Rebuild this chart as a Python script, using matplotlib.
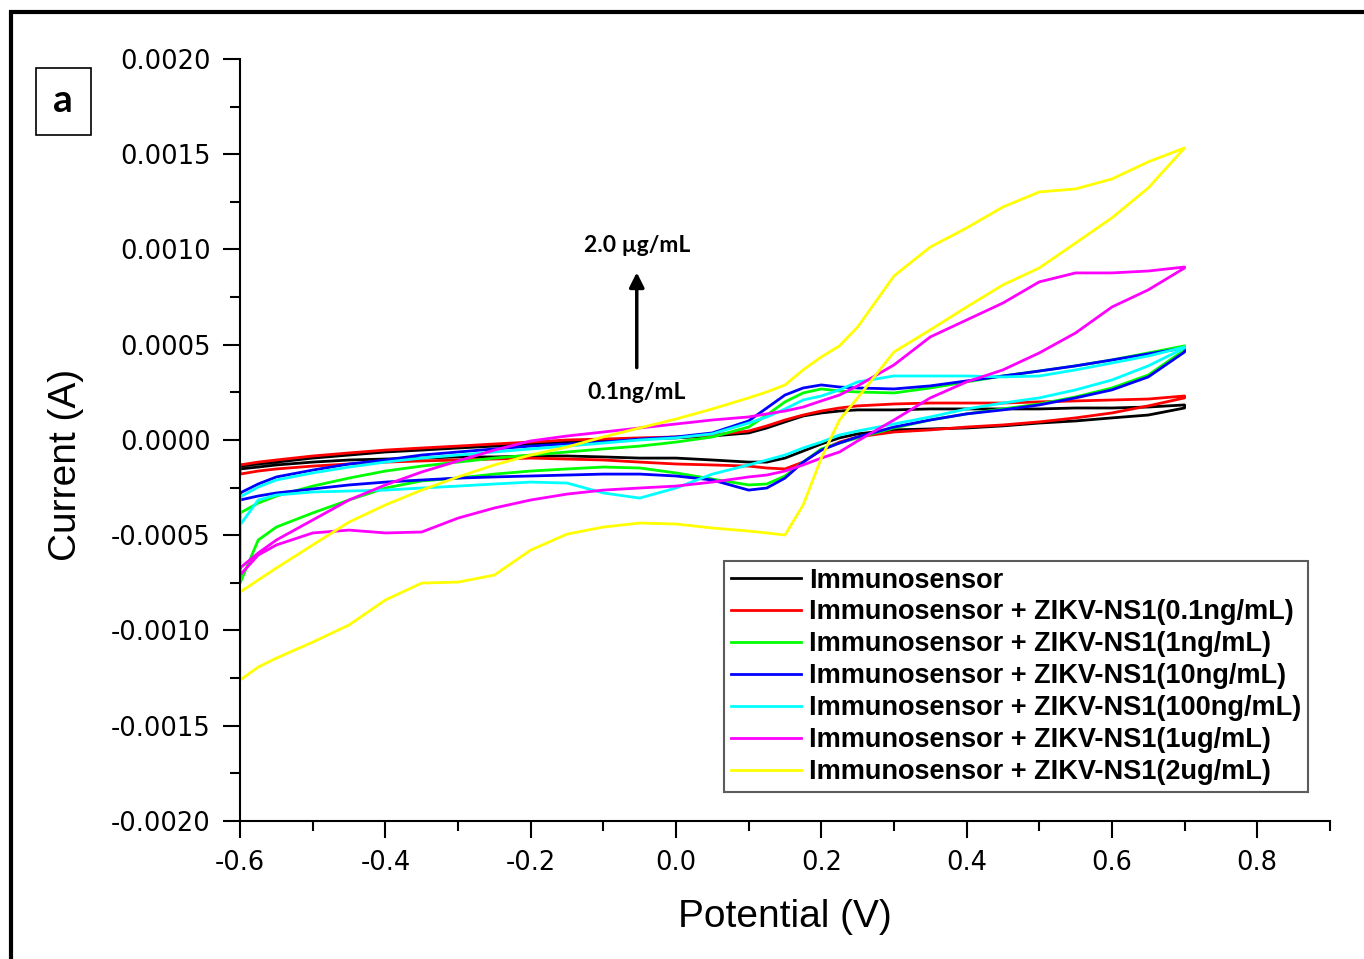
import matplotlib
matplotlib.use('Agg')
import matplotlib.pyplot as plt
from matplotlib.patches import Rectangle
from matplotlib.ticker import MultipleLocator, FormatStrFormatter

plt.rcParams['font.family'] = ['Liberation Sans', 'DejaVu Sans']

# potential grid (V), shared by both sweep branches
potential = [-0.6, -0.575, -0.55, -0.5, -0.45, -0.4, -0.35, -0.3, -0.25, -0.2,
             -0.15, -0.1, -0.05, 0.0, 0.05, 0.1, 0.125, 0.15, 0.175, 0.2,
             0.225, 0.25, 0.3, 0.35, 0.4, 0.45, 0.5, 0.55, 0.6, 0.65, 0.7]

# current in uA, upper (fwd) and lower (rev) branches
black_fwd = [-137, -126, -116, -95, -79, -63, -53, -42, -32, -21, -11, -5, 5, 11, 21, 37, 63, 95, 126, 142,
             152, 158, 158, 163, 163, 163, 163, 168, 168, 173, 184]
black_rev = [-152, -142, -131, -116, -105, -100, -95, -89, -89, -84, -84, -89, -95, -95, -105, -116, -116, -95, -58, -21,
             11, 32, 53, 58, 63, 74, 89, 100, 116, 131, 168]
red_fwd = [-131, -116, -105, -84, -68, -53, -42, -32, -21, -11, 0, 5, 11, 16, 26, 47, 74, 105, 131, 152,
           168, 179, 189, 194, 194, 194, 200, 205, 210, 215, 231]
red_rev = [-179, -163, -152, -137, -126, -116, -110, -105, -100, -95, -100, -105, -116, -126, -131, -137, -147, -152, -116, -53,
           -11, 16, 42, 53, 68, 79, 95, 116, 142, 179, 221]
green_fwd = [-383, -331, -294, -242, -200, -163, -137, -116, -95, -79, -63, -47, -32, -11, 16, 68, 131, 200, 247, 268,
             257, 252, 247, 273, 305, 336, 362, 389, 420, 457, 494]
green_rev = [-751, -525, -457, -383, -315, -252, -215, -200, -179, -163, -152, -142, -147, -173, -205, -236, -231, -189, -116, -47,
             -16, 11, 63, 105, 137, 163, 189, 226, 273, 341, 473]
blue_fwd = [-278, -231, -194, -158, -126, -105, -79, -63, -47, -32, -21, -11, 5, 16, 37, 100, 168, 236, 273, 289,
            278, 273, 268, 284, 310, 336, 362, 389, 420, 452, 483]
blue_rev = [-315, -294, -278, -257, -236, -221, -210, -200, -194, -189, -184, -179, -179, -189, -210, -263, -252, -200, -116, -53,
            -16, 16, 68, 105, 137, 158, 184, 221, 263, 331, 462]
cyan_fwd = [-299, -247, -210, -173, -142, -116, -95, -79, -63, -47, -32, -16, 0, 11, 32, 89, 121, 163, 210, 231,
            263, 305, 336, 336, 336, 331, 336, 368, 404, 441, 488]
cyan_rev = [-446, -315, -289, -273, -268, -263, -252, -242, -231, -221, -226, -278, -305, -252, -179, -131, -105, -79, -42, -11,
            26, 47, 84, 121, 163, 194, 221, 263, 315, 389, 483]
magenta_fwd = [-672, -593, -525, -420, -315, -236, -168, -110, -53, -5, 21, 42, 63, 84, 105, 121, 137, 152, 173, 205,
               236, 284, 394, 541, 630, 719, 830, 877, 877, 887, 908]
magenta_rev = [-709, -604, -551, -488, -473, -488, -483, -410, -357, -315, -284, -263, -252, -242, -221, -194, -184, -163, -131, -95,
               -63, -5, 105, 221, 305, 368, 457, 562, 698, 788, 903]
yellow_fwd = [-798, -735, -672, -551, -431, -341, -263, -194, -131, -79, -37, 16, 63, 110, 163, 221, 252, 289, 368, 436,
              494, 593, 861, 1013, 1113, 1223, 1302, 1318, 1370, 1460, 1533]
yellow_rev = [-1260, -1192, -1145, -1061, -971, -840, -751, -746, -709, -578, -494, -457, -436, -441, -462, -478, -488, -499, -341, -95,
              105, 221, 462, 578, 698, 814, 903, 1034, 1166, 1323, 1533]

labels = ['Immunosensor',
          'Immunosensor + ZIKV-NS1(0.1ng/mL)',
          'Immunosensor + ZIKV-NS1(1ng/mL)',
          'Immunosensor + ZIKV-NS1(10ng/mL)',
          'Immunosensor + ZIKV-NS1(100ng/mL)',
          'Immunosensor + ZIKV-NS1(1ug/mL)',
          'Immunosensor + ZIKV-NS1(2ug/mL)']
colors = ['#000000', '#ff0000', '#00ff00', '#0000ff', '#00ffff', '#ff00ff', '#ffff00']
curves = [(black_fwd, black_rev), (red_fwd, red_rev), (green_fwd, green_rev),
          (blue_fwd, blue_rev), (cyan_fwd, cyan_rev), (magenta_fwd, magenta_rev),
          (yellow_fwd, yellow_rev)]

fig = plt.figure(figsize=(13.64, 9.59), dpi=100)
ax = fig.add_axes([0.176, 0.1439, 0.799, 0.7946])

for (fwd, rev), c, lab in zip(curves, colors, labels):
    xs = potential + potential[::-1] + potential[:1]
    ys = fwd + rev[::-1] + fwd[:1]
    ax.plot(xs, [v * 1e-6 for v in ys], color=c, lw=2.0, label=lab)

ax.set_xlim(-0.6, 0.9)
ax.set_ylim(-0.002, 0.002)
ax.xaxis.set_major_locator(MultipleLocator(0.2))
ax.xaxis.set_minor_locator(MultipleLocator(0.1))
ax.yaxis.set_major_locator(MultipleLocator(0.0005))
ax.yaxis.set_minor_locator(MultipleLocator(0.00025))
ax.xaxis.set_major_formatter(FormatStrFormatter('%.1f'))
ax.yaxis.set_major_formatter(FormatStrFormatter('%.4f'))

for s in ['top', 'right']:
    ax.spines[s].set_visible(False)
for s in ['left', 'bottom']:
    ax.spines[s].set_linewidth(1.5)
ax.tick_params(which='major', direction='out', length=12, width=1.5, labelsize=18.5, pad=9)
ax.tick_params(which='minor', direction='out', length=7, width=1.5)
for t in ax.get_xticklabels() + ax.get_yticklabels():
    t.set_family('DejaVu Sans')

ax.set_xlabel('Potential (V)', fontsize=28)
ax.xaxis.set_label_coords(0.5, -0.102)
ax.set_ylabel('Current (A)', fontsize=28)
ax.yaxis.set_label_coords(-0.143, 0.467)

leg = ax.legend(loc='lower left', bbox_to_anchor=(0.444, 0.038),
                prop={'weight': 'bold', 'size': 19.5}, frameon=True, fancybox=False,
                edgecolor='#333333', handlelength=2.6, handletextpad=0.3,
                labelspacing=0.22, borderpad=0.25, borderaxespad=0)
leg.get_frame().set_linewidth(1.5)

# concentration arrow
ax.annotate('', xy=(-0.054, 0.00088), xytext=(-0.054, 0.00038),
            arrowprops=dict(arrowstyle='-|>', color='k', lw=2.5, mutation_scale=22,
                            shrinkA=0, shrinkB=0))
ax.text(-0.054, 0.00102, '2.0 µg/mL', ha='center', va='center', fontsize=16.5,
        fontweight='bold', family=['Lato', 'DejaVu Sans'])
ax.text(-0.054, 0.00025, '0.1ng/mL', ha='center', va='center', fontsize=16.5,
        fontweight='bold', family=['Lato', 'DejaVu Sans'])

# panel letter
fig.add_artist(Rectangle((0.0264, 0.8592), 0.0403, 0.0699, transform=fig.transFigure,
                         fill=False, lw=1.2, ec='k'))
fig.text(0.0462, 0.8947, 'a', ha='center', va='center', fontsize=28,
         fontweight='bold', family=['Lato', 'DejaVu Sans'])

# outer frame (cut off at right and bottom)
fig.add_artist(Rectangle((0.0077, -0.1), 1.2, 1.0875, transform=fig.transFigure,
                         fill=False, lw=3, ec='k'))

fig.savefig('out.png', dpi=100)
